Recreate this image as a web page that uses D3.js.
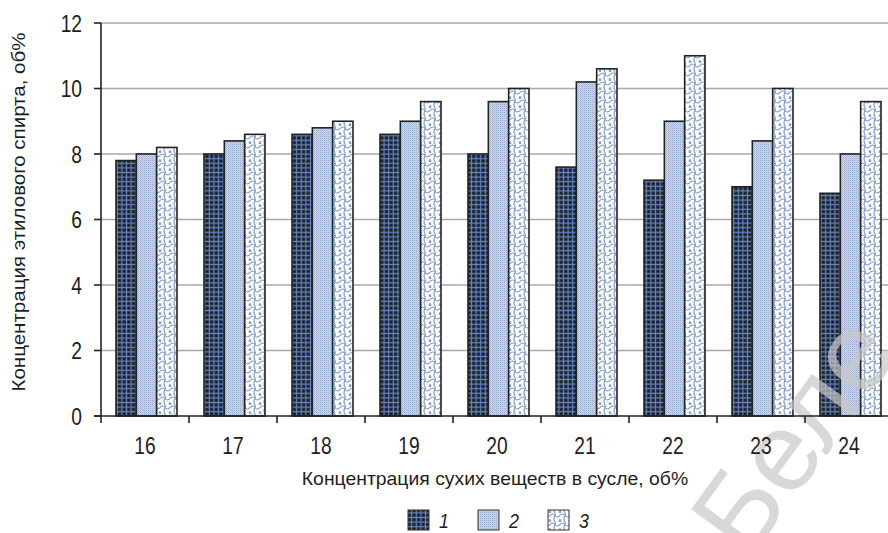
<!DOCTYPE html>
<html><head><meta charset="utf-8">
<script src="https://cdn.jsdelivr.net/npm/d3@7"></script>
<style>body{margin:0;background:#fff}svg{display:block}text{font-family:"Liberation Sans","Arial",sans-serif;fill:#1e1e1e}</style>
</head><body><svg id="c" width="888" height="533"></svg>
<script>
const categories = ["16","17","18","19","20","21","22","23","24"];
const seriesNames = ["1","2","3"];
const series1 = [7.8, 8.0, 8.6, 8.6, 8.0, 7.6, 7.2, 7.0, 6.8];
const series2 = [8.0, 8.4, 8.8, 9.0, 9.6, 10.2, 9.0, 8.4, 8.0];
const series3 = [8.2, 8.6, 9.0, 9.6, 10.0, 10.6, 11.0, 10.0, 9.6];
const yTicks = [0, 2, 4, 6, 8, 10, 12];
const yTitle = "Концентрация этилового спирта, об%";
const xTitle = "Концентрация сухих веществ  в сусле, об%";
const watermark = "Беле";

const svg = d3.select("#c");
const defs = svg.append("defs");
const p1 = defs.append("pattern").attr("id","p1").attr("patternUnits","userSpaceOnUse").attr("width",4.6).attr("height",4.6);
p1.append("rect").attr("width",4.6).attr("height",4.6).attr("fill","#1d1d24");
p1.append("path").attr("d","M0,2.3H4.6M2.3,0V4.6").attr("stroke","#5f83bd").attr("stroke-width",1.3);
const p2 = defs.append("pattern").attr("id","p2").attr("patternUnits","userSpaceOnUse").attr("width",2).attr("height",2);
p2.append("rect").attr("width",2).attr("height",2).attr("fill","#cfd9ea");
p2.append("rect").attr("width",1).attr("height",1).attr("fill","#96aacd");
p2.append("rect").attr("x",1).attr("y",1).attr("width",1).attr("height",1).attr("fill","#b2c2de");
const p3 = defs.append("pattern").attr("id","p3").attr("patternUnits","userSpaceOnUse").attr("width",10).attr("height",9);
p3.append("rect").attr("width",10).attr("height",9).attr("fill","#fff");
p3.append("path").attr("d","M0,2.5 Q3,-0.5 5,2.5 Q7,5.5 10,2.5 M5,2.5 Q3,6 5,9 M0,6.5 Q1.5,7.8 0,9 M10,6.5 Q8.5,7.8 10,9 M5,0 Q5.6,1.2 5,2.5")
  .attr("fill","none").attr("stroke","#7f9bc9").attr("stroke-width",1.2);
const fills = ["url(#p1)","url(#p2)","url(#p3)"];

const x0 = d3.scaleBand().domain(categories).range([101, 893]).padding(0);
const x1 = d3.scaleBand().domain(seriesNames).range([15, 76]).padding(0);
const y = d3.scaleLinear().domain([0, 12]).range([416, 23]);

function label(parent, x, yy, str, size, anchor, rot, sx, extra) {
  const g = parent.append("g").attr("transform", `translate(${x},${yy}) rotate(${rot||0}) scale(${sx||0.8},1)`);
  const t = g.append("text").attr("text-anchor", anchor||"middle").attr("font-size", size).text(str);
  if (extra) extra(t);
  return t;
}

svg.append("g").selectAll("line").data(yTicks.filter(d=>d>0)).join("line")
  .attr("x1",101).attr("x2",888).attr("y1",d=>y(d)).attr("y2",d=>y(d))
  .attr("stroke","#a8a8a8").attr("stroke-width",1.6);

const data = [series1, series2, series3];
const g = svg.append("g");
categories.forEach((c,i)=>{
  seriesNames.forEach((s,j)=>{
    g.append("rect").attr("x",x0(c)+x1(s)).attr("y",y(data[j][i]))
     .attr("width",x1.bandwidth()).attr("height",y(0)-y(data[j][i]))
     .attr("fill",fills[j]).attr("stroke","#222").attr("stroke-width",1.6);
  });
});

// watermark (scan overlay)
label(svg, 748, 562, watermark, 112, "start", -54, 1, t=>t.style("fill","#c8c8c8").attr("opacity",0.7));

// y axis
svg.append("line").attr("x1",101).attr("x2",101).attr("y1",23).attr("y2",416).attr("stroke","#222").attr("stroke-width",1.6);
svg.append("g").selectAll("line").data(yTicks).join("line")
  .attr("x1",94).attr("x2",101).attr("y1",d=>y(d)).attr("y2",d=>y(d)).attr("stroke","#222").attr("stroke-width",1.6);
const yl = svg.append("g");
yTicks.forEach(v=>label(yl, 82, y(v)+8.5, String(v), 24, "end"));

// x axis
svg.append("line").attr("x1",94).attr("x2",888).attr("y1",416).attr("y2",416).attr("stroke","#222").attr("stroke-width",1.6);
svg.append("g").selectAll("line").data(categories).join("line")
  .attr("x1",d=>x0(d)).attr("x2",d=>x0(d)).attr("y1",416).attr("y2",423)
  .attr("stroke","#222").attr("stroke-width",1.6);
const xl = svg.append("g");
categories.forEach(c=>label(xl, x0(c)+x0.bandwidth()/2, 453.5, c, 24, "middle"));

label(svg, 495, 485, xTitle, 19, "middle", 0, 1.02);
label(svg, 25, 212, yTitle, 19, "middle", -90, 1.08);

// legend
const lx = [408, 478, 548];
seriesNames.forEach((s,j)=>{
  svg.append("rect").attr("x",lx[j]).attr("y",510).attr("width",21).attr("height",20)
    .attr("fill",fills[j]).attr("stroke","#333").attr("stroke-width",1);
  label(svg, lx[j]+31, 528, s, 21, "start", 0, 0.85, t=>t.attr("font-style","italic"));
});
</script></body></html>
